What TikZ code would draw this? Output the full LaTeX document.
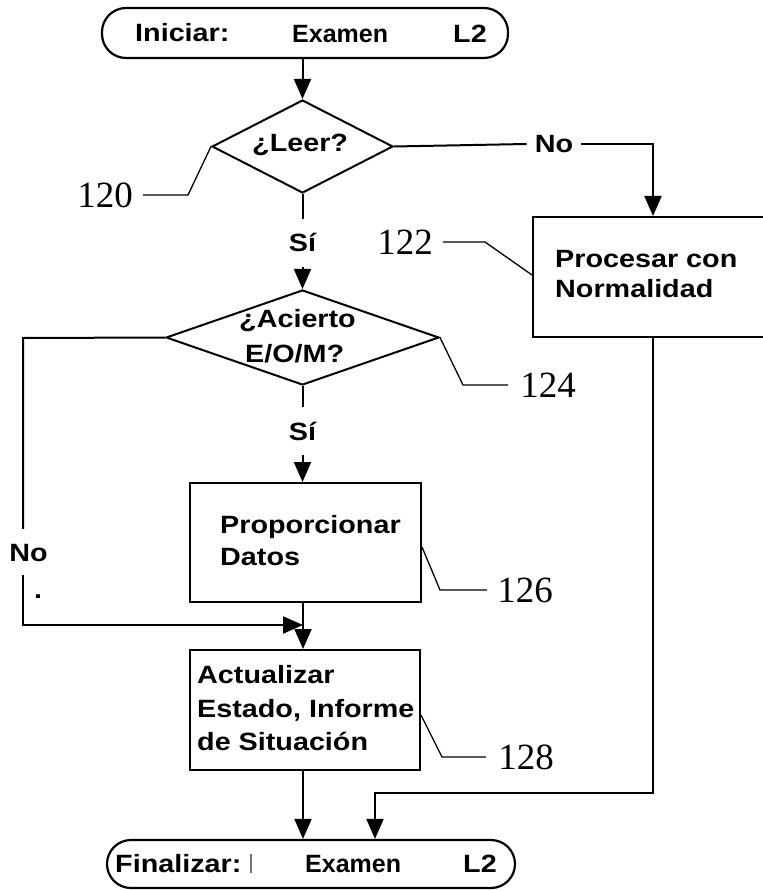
\documentclass[tikz,border=0pt]{standalone}
\usepackage{fontspec}
\usetikzlibrary{arrows.meta,shapes.geometric}
\newfontfamily\flowfont{Liberation Sans}[FakeStretch=1.15]
\newfontfamily\plainflow{Liberation Sans}
\newfontfamily\reffont{Liberation Serif}

\tikzset{
  flowline/.style={line width=2pt},
  arr/.style={flowline,-{Triangle[width=17pt,length=20pt]}},
  lead/.style={line width=1.3pt},
  term/.style={draw,line width=2.2pt,rounded corners=24pt,inner sep=0pt},
  proc/.style={draw,line width=2pt,inner sep=0pt},
  dec/.style={draw,diamond,line width=2pt,inner sep=0pt},
  txt/.style={font={\flowfont\bfseries\fontsize{25}{30}\selectfont},inner sep=0pt,anchor=base west},
  txtplain/.style={txt,font={\plainflow\bfseries\fontsize{25}{30}\selectfont}},
  lbl/.style={font={\flowfont\bfseries\fontsize{25}{30}\selectfont},text height=18pt,text depth=0pt,inner sep=0pt},
  refnum/.style={font={\reffont\fontsize{37}{40}\selectfont},inner ysep=0pt,inner xsep=10pt},
}

\begin{document}
\begin{tikzpicture}[x=1pt,y=-1pt]
\useasboundingbox (0,0) rectangle (762,890);

% shapes
\node[term,minimum width=406pt,minimum height=50pt] (start) at (305,33) {};
\node[dec,minimum width=181pt,minimum height=93pt] (d1) at (302.5,146.5) {};
\node[proc,minimum width=240pt,minimum height=120pt] (b122) at (653,277) {};
\node[dec,minimum width=273pt,minimum height=95pt] (d2) at (302.5,337.5) {};
\node[proc,minimum width=231pt,minimum height=119pt] (b126) at (305.5,542.5) {};
\node[proc,minimum width=230pt,minimum height=120pt] (b128) at (305,710) {};
\node[term,minimum width=408pt,minimum height=48pt] (end) at (311,864) {};

% texts inside shapes
\node[txt] (tini) at (135,42) {Iniciar:};
\node[txtplain] (tex1) at (292,43) {Examen};
\node[txt] (tl21) at (453,43) {L2};
\node[txt] (tleer) at (252,152) {¿Leer?};
\node[txt] (tac1) at (239,327) {¿Acierto};
\node[txt] (tac2) at (245,362) {E/O/M?};
\node[txt] (tpc1) at (555,267) {Procesar con};
\node[txt] (tpc2) at (555,298) {Normalidad};
\node[txt] (tpd1) at (220,533) {Proporcionar};
\node[txt] (tpd2) at (220,565) {Datos};
\node[txt] (tau1) at (197,683) {Actualizar};
\node[txt] (tau2) at (197,717) {Estado, Informe};
\node[txt] (tau3) at (197,750) {de Situación};
\node[txt] (tfin) at (115,872) {Finalizar:};
\node[txtplain] (tex2) at (305,872) {Examen};
\node[txt] (tl22) at (463,872) {L2};
\draw[line width=1.4pt,black!55] (251,854) -- (251,873);

% branch labels
\node[lbl,inner ysep=15pt] (si1) at (302.5,243) {Sí};
\node[lbl,inner ysep=15pt] (si2) at (302.5,431) {Sí};
\node[lbl,inner xsep=8pt] (no1) at (554,144) {No};
\node[lbl,inner ysep=14pt] (no2) at (28.5,552) {No};
\node[txt,anchor=center] (dot) at (38,597) {.};

% reference numerals
\node[refnum] (n120) at (105,195) {120};
\node[refnum] (n122) at (405,242) {122};
\node[refnum,inner xsep=12pt] (n124) at (548,385) {124};
\node[refnum] (n126) at (525,590) {126};
\node[refnum,inner xsep=12pt] (n128) at (526,757) {128};

% junction points
\coordinate (spine) at (303,0);
\coordinate (lx) at (23,338);
\coordinate (merge) at (303,625);
\coordinate (ret) at (375,793);

% flow connectors
\draw[arr] (d1.north |- start.south) -- (d1.north);
\draw[flowline] (d1.south) -- (si1.north);
\draw[arr] (si1.south) -- (d2.north);
\draw[flowline] (d1.east) -- (no1.west);
\draw[arr] (no1.east) -| (b122.north);
\draw[flowline] (d2.south) -- (si2.north);
\draw[arr] (si2.south) -- (si2.south |- b126.north);
\draw[flowline] (d2.west) -- (lx) -- (lx |- no2.north);
\draw[arr] (lx |- no2.south) |- (merge);
\draw[arr] (b126.south -| spine) -- (b128.north -| spine);
\draw[arr] (b128.south -| spine) -- (end.north -| spine);
\draw[arr] (b122.south) |- (ret) -- (ret |- end.north);

% leader lines to numerals
\draw[lead] (d1.west) -- (188,195) -- (n120.east);
\draw[lead] (b122.west) ++(0,-2) -- (485,242) -- (n122.east);
\draw[lead] (d2.east) -- (463,385) -- (n124.west);
\draw[lead] (b126.east) ++(0,4.5) -- (440,590) -- (n126.west);
\draw[lead] (b128.east) ++(0,5) -- (442,757) -- (n128.west);
\end{tikzpicture}
\end{document}
